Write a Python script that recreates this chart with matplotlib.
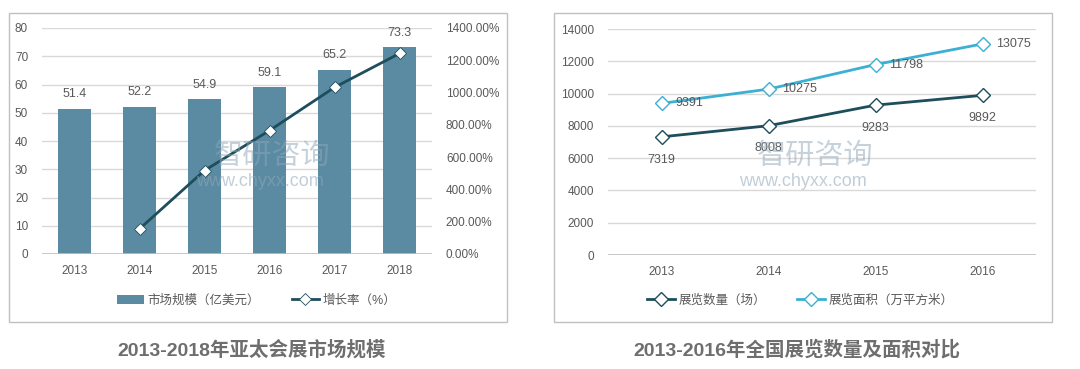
import matplotlib.pyplot as plt
from matplotlib.patches import Rectangle
from matplotlib.ticker import FuncFormatter

plt.rcParams['font.family'] = ['Liberation Sans', 'Noto Sans CJK SC', 'DejaVu Sans']

# 左图数据
years_l = ['2013', '2014', '2015', '2016', '2017', '2018']
market = [51.4, 52.2, 54.9, 59.1, 65.2, 73.3]
growth_years = ['2014', '2015', '2016', '2017', '2018']
growth = [155.6, 517.2, 765.0, 1032.1, 1242.3]

# 右图数据
years_r = ['2013', '2014', '2015', '2016']
count = [7319, 8008, 9283, 9892]
area = [9391, 10275, 11798, 13075]

W, H = 1080, 369
fig = plt.figure(figsize=(W / 100, H / 100), dpi=100)
fig.patch.set_facecolor('white')

txt = '#595959'
grid_c = '#d9d9d9'
bar_c = '#5b8ba3'
dark = '#1e4d5c'
light = '#3cb0d2'


def px(x0, y0, x1, y1):
    return [x0 / W, 1 - y1 / H, (x1 - x0) / W, (y1 - y0) / H]


# 外框
for x0, x1 in [(9, 507), (554, 1052)]:
    fig.patches.append(Rectangle((x0 / W, 1 - 322 / H), (x1 - x0) / W, 309 / H,
                                 transform=fig.transFigure, fill=False,
                                 edgecolor='#c0c0c0', linewidth=1))


def style(ax):
    for s in ax.spines.values():
        s.set_visible(False)
    ax.tick_params(length=0, colors=txt, labelsize=8.5)
    ax.grid(axis='y', color=grid_c, linewidth=1)
    ax.set_axisbelow(True)


# ---- 左图 ----
ax1 = fig.add_axes(px(42, 28, 432, 254))
xl = list(range(len(years_l)))
ax1.bar(xl, market, width=0.5, color=bar_c, label='市场规模（亿美元）', zorder=2)
for x, v in zip(xl, market):
    ax1.annotate(f'{v}', (x, v), xytext=(0, 6), textcoords='offset points',
                 ha='center', va='bottom', fontsize=9, color=txt)
ax1.set_xlim(-0.5, len(years_l) - 0.5)
ax1.set_ylim(0, 80)
ax1.set_yticks(range(0, 81, 10))
ax1.set_xticks(xl, years_l)
style(ax1)
ax1.axhline(0, color='#bfbfbf', linewidth=1.2)
ax1.tick_params(axis='y', pad=10)
ax1.tick_params(axis='x', pad=8)

ax2 = ax1.twinx()
gx = [years_l.index(y) for y in growth_years]
ax2.plot(gx, growth, color=dark, linewidth=2, marker='D', markersize=6,
         markerfacecolor='white', markeredgecolor=dark, markeredgewidth=0.6,
         label='增长率（%）', zorder=3)
ax2.set_ylim(0, 1400)
ax2.set_yticks(range(0, 1401, 200))
ax2.yaxis.set_major_formatter(FuncFormatter(lambda v, p: f'{v:.2f}%'))
for s in ax2.spines.values():
    s.set_visible(False)
ax2.tick_params(length=0, colors=txt, labelsize=8.5, pad=10)

h1, l1 = ax1.get_legend_handles_labels()
h2, l2 = ax2.get_legend_handles_labels()
ax1.legend(h1 + h2, l1 + l2, loc='center', bbox_to_anchor=(0.55, -0.205), ncol=2,
           frameon=False, fontsize=9, labelcolor=txt, handlelength=2.2,
           columnspacing=2.5, handletextpad=0.3)

# ---- 右图 ----
ax3 = fig.add_axes(px(608, 29, 1036, 255))
xr = list(range(len(years_r)))
ax3.plot(xr, count, color=dark, linewidth=2, marker='D', markersize=7,
         markerfacecolor='white', markeredgecolor=dark, markeredgewidth=1,
         label='展览数量（场）', zorder=3)
ax3.plot(xr, area, color=light, linewidth=2, marker='D', markersize=7,
         markerfacecolor='white', markeredgecolor=light, markeredgewidth=1,
         label='展览面积（万平方米）', zorder=3)
for x, v in zip(xr, count):
    ax3.annotate(f'{v}', (x, v), xytext=(0, -12), textcoords='offset points',
                 ha='center', va='top', fontsize=9, color=txt)
for x, v in zip(xr, area):
    ax3.annotate(f'{v}', (x, v), xytext=(10, 0), textcoords='offset points',
                 ha='left', va='center', fontsize=9, color=txt)
ax3.set_xlim(-0.5, len(years_r) - 0.5)
ax3.set_ylim(0, 14000)
ax3.set_yticks(range(0, 14001, 2000))
ax3.set_xticks(xr, years_r)
style(ax3)
ax3.axhline(0, color='#bfbfbf', linewidth=1.2)
ax3.tick_params(axis='y', pad=10)
ax3.tick_params(axis='x', pad=8)
ax3.legend(loc='center', bbox_to_anchor=(0.45, -0.2), ncol=2, frameon=False,
           fontsize=9, labelcolor=txt, handlelength=2.2, columnspacing=2.5,
           handletextpad=0.3)

# 水印
for cx in [272, 815]:
    fig.text(cx / W, 1 - 156 / H, '智研咨询', ha='center', va='center', fontsize=21,
             color='#8fa6b8', alpha=0.5, family=['Noto Sans CJK SC'], zorder=5)
    fig.text((cx - 12) / W, 1 - 181 / H, 'www.chyxx.com', ha='center', va='center',
             fontsize=13, color='#8fa6b8', alpha=0.55, zorder=5)

# 标题
fig.text(252 / W, 1 - 350 / H, '2013-2018年亚太会展市场规模', ha='center', va='center',
         fontsize=14, fontweight='bold', color='#6e6e6e')
fig.text(797 / W, 1 - 350 / H, '2013-2016年全国展览数量及面积对比', ha='center',
         va='center', fontsize=14, fontweight='bold', color='#6e6e6e')

fig.savefig('out.png', dpi=100, facecolor='white')
